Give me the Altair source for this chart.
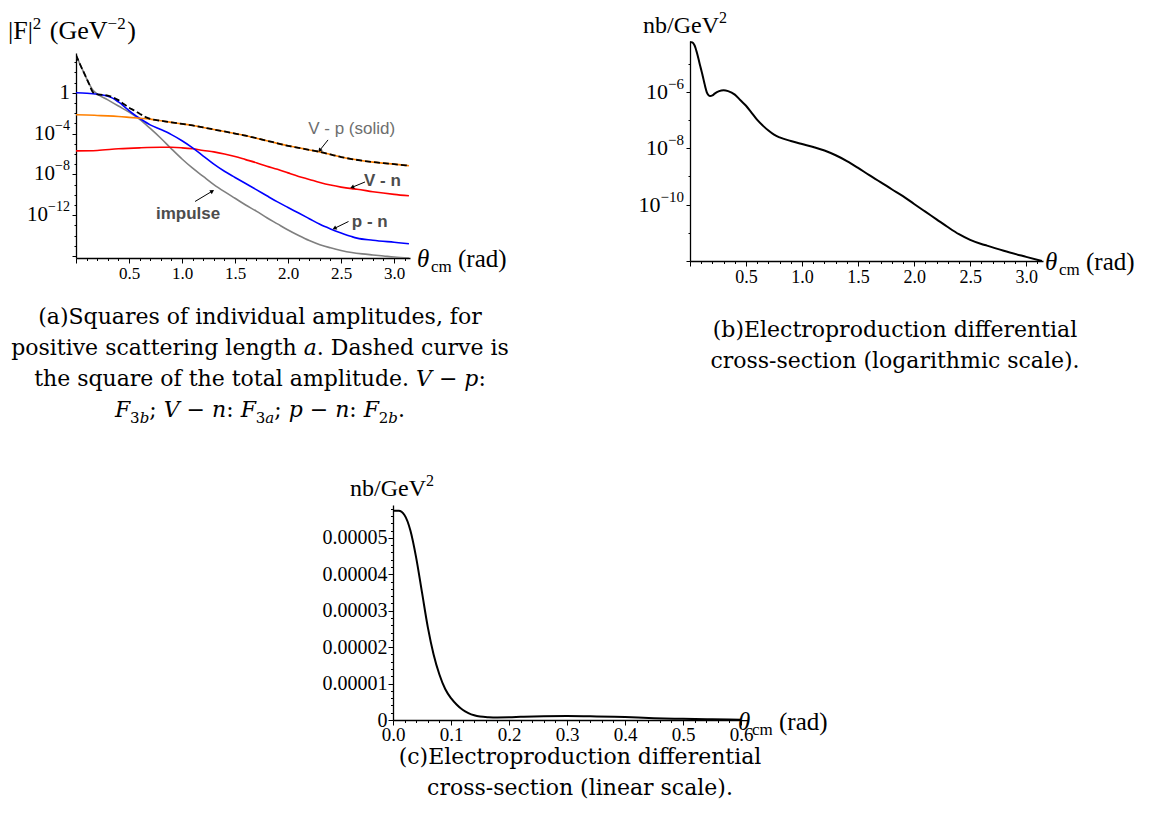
import altair as alt
import pandas as pd

# ------------------------------------------------------------------
# Panel (a): |F|^2 (GeV^-2) of individual amplitudes vs theta_cm (rad)
# ------------------------------------------------------------------
theta_total = [0.00, 0.04, 0.08, 0.12, 0.16, 0.20, 0.25, 0.30, 0.35, 0.40, 0.45, 0.50, 0.55, 0.60, 0.65,
               0.70, 0.80, 0.90, 1.00, 1.10, 1.20, 1.30, 1.40, 1.50, 1.60, 1.70, 1.80, 1.90, 2.00, 2.10,
               2.20, 2.30, 2.40, 2.50, 2.60, 2.70, 2.80, 2.90, 3.00, 3.14]
f2_total = [5.0e3, 560, 71, 8.9, 1.1, 0.71, 0.63, 0.52, 0.35, 0.19, 0.079, 0.035, 0.018, 8.9e-3, 4.5e-3,
            2.8e-3, 1.8e-3, 1.26e-3, 8.9e-4, 6.3e-4, 4.0e-4, 2.5e-4, 1.6e-4, 1.0e-4, 6.3e-5, 3.5e-5, 2.0e-5,
            1.1e-5, 6.3e-6, 4.0e-6, 2.5e-6, 1.6e-6, 8.9e-7, 5.0e-7, 3.2e-7, 2.2e-7, 1.6e-7, 1.26e-7, 1.0e-7, 7.1e-8]

theta_vp = [0.0, 0.1, 0.2, 0.3, 0.4, 0.5, 0.6, 0.7, 0.8, 0.9, 1.0, 1.1, 1.2, 1.3, 1.4, 1.5, 1.6, 1.7, 1.8,
            1.9, 2.0, 2.1, 2.2, 2.3, 2.4, 2.5, 2.6, 2.7, 2.8, 2.9, 3.0, 3.14]
f2_vp = [6.9e-3, 6.6e-3, 6.0e-3, 5.4e-3, 4.7e-3, 3.9e-3, 3.2e-3, 2.6e-3, 1.8e-3, 1.26e-3, 8.9e-4, 6.3e-4,
         4.0e-4, 2.5e-4, 1.6e-4, 1.0e-4, 6.3e-5, 3.5e-5, 2.0e-5, 1.1e-5, 6.3e-6, 4.0e-6, 2.5e-6, 1.6e-6,
         8.9e-7, 5.0e-7, 3.2e-7, 2.2e-7, 1.6e-7, 1.26e-7, 1.0e-7, 7.1e-8]

theta_vn = [0.0, 0.2, 0.4, 0.6, 0.8, 0.9, 1.0, 1.1, 1.2, 1.3, 1.4, 1.5, 1.6, 1.7, 1.8, 1.9, 2.0, 2.1, 2.2,
            2.3, 2.4, 2.5, 2.6, 2.65, 2.8, 3.0, 3.14]
f2_vn = [2.0e-6, 2.2e-6, 3.2e-6, 4.0e-6, 4.5e-6, 4.5e-6, 4.0e-6, 3.2e-6, 2.2e-6, 1.6e-6, 1.0e-6, 5.6e-7,
         2.8e-7, 1.4e-7, 6.3e-8, 3.2e-8, 1.4e-8, 6.3e-9, 3.2e-9, 1.6e-9, 8.9e-10, 5.6e-10, 4.0e-10,
         3.5e-10, 2.0e-10, 1.1e-10, 7.9e-11]

theta_pn = [0.0, 0.1, 0.2, 0.3, 0.35, 0.4, 0.45, 0.5, 0.55, 0.6, 0.7, 0.8, 0.9, 1.0, 1.1, 1.2, 1.3, 1.4,
            1.5, 1.6, 1.7, 1.8, 1.9, 2.0, 2.1, 2.2, 2.3, 2.4, 2.5, 2.6, 2.65, 2.8, 3.0, 3.14]
f2_pn = [1.0, 0.89, 0.71, 0.45, 0.28, 0.126, 0.05, 0.018, 7.1e-3, 3.2e-3, 7.1e-4, 2.5e-4, 7.9e-5, 2.0e-5,
         4.0e-6, 6.3e-7, 1.0e-7, 2.0e-8, 5.0e-9, 1.26e-9, 3.2e-10, 7.9e-11, 2.0e-11, 5.6e-12, 1.6e-12,
         4.5e-13, 1.26e-13, 4.5e-14, 1.8e-14, 7.9e-15, 5.6e-15, 3.5e-15, 2.2e-15, 1.6e-15]

theta_imp = [0.00, 0.04, 0.08, 0.12, 0.16, 0.20, 0.30, 0.40, 0.50, 0.60, 0.70, 0.80, 0.90, 1.00, 1.10,
             1.20, 1.30, 1.40, 1.50, 1.60, 1.70, 1.80, 1.90, 2.00, 2.10, 2.20, 2.30, 2.40, 2.50, 2.60,
             2.70, 2.80, 2.90, 3.00, 3.14]
f2_imp = [5.0e3, 560, 71, 8.9, 1.8, 0.79, 0.2, 0.05, 0.0126, 2.5e-3, 3.2e-4, 3.5e-5, 3.2e-6, 3.2e-7,
          4.0e-8, 6.3e-9, 1.0e-9, 2.0e-10, 4.5e-11, 1.0e-11, 2.5e-12, 5.6e-13, 1.4e-13, 3.5e-14, 1.0e-14,
          3.2e-15, 1.26e-15, 6.3e-16, 3.5e-16, 2.2e-16, 1.6e-16, 1.26e-16, 1.0e-16, 7.9e-17, 6.3e-17]

# y tick labels (value, exponent text) of the log panels
ylab_a_vals = [1.0, 1e-4, 1e-8, 1e-12]
ylab_a_exps = ["", "\u22124", "\u22128", "\u221212"]
ylab_b_vals = [1e-6, 1e-8, 1e-10]
ylab_b_exps = ["\u22126", "\u22128", "\u221210"]

# curve labels and arrows of panel (a), in data units
label_text = ["V - p (solid)", "V - n", "p - n", "impulse"]
label_theta = [2.60, 2.89, 2.77, 1.057]
label_f2 = [2.9e-4, 2.0e-9, 2.1e-13, 1.26e-12]
arrow_theta_tail = [2.377, 2.726, 2.57, 1.123]
arrow_f2_tail = [2.4e-5, 1.8e-9, 2.4e-13, 2.2e-11]
arrow_theta_head = [2.302, 2.61, 2.443, 1.28]
arrow_f2_head = [2.5e-6, 5.7e-10, 5.4e-14, 2.1e-10]
arrow_angle = [219, 248, 243, 59]

# ------------------------------------------------------------------
# Panels (b) and (c): electroproduction differential cross-section (nb/GeV^2)
# ------------------------------------------------------------------
theta_xs = [0.000, 0.010, 0.020, 0.030, 0.040, 0.050, 0.060, 0.070, 0.080, 0.090, 0.100, 0.110, 0.120,
            0.130, 0.140, 0.150, 0.165, 0.180, 0.200, 0.220, 0.260, 0.300, 0.340, 0.400, 0.450, 0.500,
            0.550, 0.600, 0.650, 0.700, 0.750, 0.800, 0.900, 1.000, 1.100, 1.200, 1.300, 1.400, 1.500,
            1.600, 1.700, 1.800, 1.900, 2.000, 2.100, 2.200, 2.300, 2.400, 2.500, 2.600, 2.650, 2.800,
            3.000, 3.140]
xsec = [5.74e-5, 5.74e-5, 5.62e-5, 5.2e-5, 4.45e-5, 3.5e-5, 2.55e-5, 1.8e-5, 1.25e-5, 8.5e-6, 6.0e-6,
        4.2e-6, 2.8e-6, 1.9e-6, 1.3e-6, 9.5e-7, 7.6e-7, 7.0e-7, 7.4e-7, 8.6e-7, 1.05e-6, 1.12e-6, 1.05e-6,
        7.9e-7, 5.0e-7, 3.2e-7, 1.8e-7, 1.0e-7, 6.3e-8, 4.2e-8, 3.0e-8, 2.4e-8, 1.8e-8, 1.4e-8, 1.1e-8,
        8.3e-9, 5.6e-9, 3.5e-9, 2.0e-9, 1.1e-9, 6.3e-10, 3.5e-10, 2.0e-10, 1.05e-10, 5.6e-11, 3.0e-11,
        1.6e-11, 8.9e-12, 5.6e-12, 4.0e-12, 3.5e-12, 2.3e-12, 1.4e-12, 1.0e-12]

# axis titles (text, superscript?, word gap before)
ytitle_a = [("|F|", False, 0), ("2", True, 0), ("(GeV", False, 7), ("\u22122", True, 0), (")", False, 0)]
ytitle_bc = [("nb/GeV", False, 0), ("2", True, 0)]

# captions
cap_a = ["(a)Squares of individual amplitudes, for",
         "positive scattering length \U0001D44E. Dashed curve is",
         "the square of the total amplitude. \U0001D449 \u2212 \U0001D45D:"]
cap_a_last = [("F", True, 0), ("3", False, 1), ("b", True, 1), ("; ", False, 0), ("V \u2212 n", True, 0),
              (": ", False, 0), ("F", True, 0), ("3", False, 1), ("a", True, 1), ("; ", False, 0),
              ("p \u2212 n", True, 0), (": ", False, 0), ("F", True, 0), ("2", False, 1), ("b", True, 1),
              (".", False, 0)]
cap_b = ["(b)Electroproduction differential", "cross-section (logarithmic scale)."]
cap_c = ["(c)Electroproduction differential", "cross-section (linear scale)."]

# ------------------------------------------------------------------
SERIF = "Liberation Serif"
SANS = "Liberation Sans"
CAPF = "DejaVu Serif"
CAPS = 22

WA, HA = 334, 217
WB, HB = 353, 220
WC, HC = 348, 215


def base_axis(**kw):
    d = dict(grid=False, title=None, domainColor="black", domainWidth=1.3, tickColor="black",
             tickWidth=1, labelColor="black", labelFont=SERIF, labelPadding=2, labelOverlap=False,
             labelFlush=False)
    d.update(kw)
    return alt.Axis(**d)


HALF = "abs(datum.value*2 - round(datum.value*2)) < 0.001"
DEC = "round(log(datum.value)/LN10)"


def x_rad_axis(size):
    return base_axis(values=[i / 10 for i in range(32)],
                     labelExpr=f"({HALF} && datum.value > 0.01) ? format(datum.value, '.1f') : ''",
                     tickSize={"condition": {"test": HALF, "value": 5}, "value": 2.5},
                     labelFontSize=size)


AX_XA = x_rad_axis(17)
AX_YA = base_axis(values=[10.0 ** k for k in range(-16, 4)], labels=False,
                  tickSize={"condition": {"test": f"{DEC} % 4 == 0", "value": 4}, "value": 2})
SX_A = alt.Scale(domain=[0, 3.15], nice=False, zero=False)
SY_A = alt.Scale(type="log", domain=[10 ** -16.2, 10 ** 3.9], range=[HA, 12], nice=False)

AX_XB = x_rad_axis(18)
AX_YB = base_axis(values=[10.0 ** k for k in range(-12, -4)], labels=False,
                  tickSize={"condition": {"test": f"{DEC} % 2 == 0", "value": 4}, "value": 2})
SX_B = alt.Scale(domain=[0, 3.15], nice=False, zero=False)
SY_B = alt.Scale(type="log", domain=[1e-12, 6.3e-5], nice=False)

AX_XC = base_axis(values=[i * 0.02 for i in range(31)],
                  labelExpr="round(datum.value*100) % 10 == 0 ? format(datum.value, '.1f') : ''",
                  tickSize={"condition": {"test": "round(datum.value*100) % 10 == 0", "value": 5},
                            "value": 2.5},
                  labelFontSize=19, labelPadding=0)
AX_YC = base_axis(values=[i * 2e-6 for i in range(30)],
                  labelExpr=("round(datum.value*1e6) % 10 == 0 ? (datum.value < 1e-9 ? '0' : "
                             "format(datum.value, '.5f')) : ''"),
                  tickSize={"condition": {"test": "round(datum.value*1e6) % 10 == 0", "value": 5},
                            "value": 2.5},
                  labelFontSize=20, labelPadding=1)
SX_C = alt.Scale(domain=[0, 0.6], nice=False, zero=False)
SY_C = alt.Scale(domain=[0, 5.9e-5], nice=False, zero=False)


def ptext(text, x, y, size, font=SERIF, style="normal", weight="normal", align="left",
          color="black"):
    return alt.Chart(pd.DataFrame({"t": [text]})).mark_text(
        font=font, fontSize=size, fontStyle=style, fontWeight=weight, align=align,
        baseline="alphabetic", color=color
    ).encode(x=alt.value(x), y=alt.value(y), text="t:N")


# approximate advance widths (em) of Liberation Serif, for laying out superscripts
LTAB = {"|": .2, "F": .556, " ": .25, "(": .333, ")": .333, "G": .722, "e": .444, "V": .722,
        "n": .5, "b": .5, "/": .278, "2": .5, "\u2212": .564}


def sup_title(parts, x, y, size, sup_size):
    out = []
    for t, sup, gap in parts:
        x += gap
        s = sup_size if sup else size
        out.append(ptext(t, x, y - (10 if sup else 0), s))
        x += sum(LTAB.get(ch, .5) for ch in t) * s + (1.5 if sup else 0)
    return out


def pow_labels(vals, exps, scale, axis, base, sup, right=-6):
    """Tick labels 10^e drawn at the tick values of a log axis."""
    out = []
    for v, e in zip(vals, exps):
        yd = alt.YDatum(v, type="quantitative", scale=scale, axis=axis)
        if e == "":
            out.append(alt.Chart(pd.DataFrame({"t": ["1"]})).mark_text(
                font=SERIF, fontSize=base, align="right", baseline="middle", color="black"
            ).encode(x=alt.value(right), y=yd, text="t:N"))
            continue
        w = sup * (0.564 + 0.5 * (len(e) - 1))
        out.append(alt.Chart(pd.DataFrame({"t": ["10"]})).mark_text(
            font=SERIF, fontSize=base, align="right", baseline="middle", color="black"
        ).encode(x=alt.value(right - w), y=yd, text="t:N"))
        out.append(alt.Chart(pd.DataFrame({"t": [e]})).mark_text(
            font=SERIF, fontSize=sup, align="right", baseline="middle", dy=-8, color="black"
        ).encode(x=alt.value(right), y=yd, text="t:N"))
    return out


def theta_title(x, y):
    return [ptext("θ", x, y, 25, style="italic"),
            ptext("cm", x + 14, y + 5, 17),
            ptext("(rad)", x + 41, y, 25)]


WTAB = {" ": .318, ";": .337, ":": .337, ".": .318, "F": .685, "V": .727, "n": .645, "p": .640,
        "a": .596, "b": .640, "2": .636, "3": .636, "\u2212": .838}


def rich_line(segs, cx, y):
    items = []
    for t, it, sub in segs:
        s = 15 if sub else CAPS
        w = sum(WTAB.get(ch, .6) for ch in t) * s
        items.append((t, it, s, 6 if sub else 0, w))
    x = cx - sum(i[4] for i in items) / 2
    out = []
    for t, it, s, dy, w in items:
        out.append(ptext(t, x, y + dy, s, font=CAPF, style="italic" if it else "normal"))
        x += w
    return out


def caption(lines, cx, y0, step=31):
    return [ptext(t, cx, y0 + i * step, CAPS, font=CAPF, align="center") for i, t in enumerate(lines)]


# ---------------------------- panel (a) ----------------------------
def XA(f="theta"):
    return alt.X(f"{f}:Q", scale=SX_A, axis=AX_XA)


def YA(f="v"):
    return alt.Y(f"{f}:Q", scale=SY_A, axis=AX_YA)


def curve_a(th, v, color, width=1.6, **kw):
    return alt.Chart(pd.DataFrame({"theta": th, "v": v})).mark_line(
        color=color, strokeWidth=width, clip=True, interpolate="monotone", **kw
    ).encode(x=XA(), y=YA())


lab = pd.DataFrame({"lt": label_theta, "lv": label_f2, "txt": label_text})
arr = pd.DataFrame({"t0": arrow_theta_tail, "v0": arrow_f2_tail, "t1": arrow_theta_head,
                    "v1": arrow_f2_head, "ang": arrow_angle})

lab_vp = alt.Chart(lab.iloc[[0]]).mark_text(font=SANS, fontSize=17, color="#6e6e6e").encode(
    x=XA("lt"), y=YA("lv"), text="txt:N")
lab_rest = alt.Chart(lab.iloc[1:]).mark_text(font=SANS, fontSize=17, fontWeight="bold",
                                             color="#4d4d4d").encode(x=XA("lt"), y=YA("lv"), text="txt:N")
arrow_line = alt.Chart(arr).mark_rule(color="black", strokeWidth=1).encode(
    x=XA("t0"), y=YA("v0"), x2="t1:Q", y2="v1:Q")
arrow_head = alt.Chart(arr).mark_point(shape="triangle", filled=True, color="black", size=22,
                                       opacity=1).encode(
    x=XA("t1"), y=YA("v1"), angle=alt.Angle("ang:Q", scale=None))

panel_a = alt.layer(
    curve_a(theta_imp, f2_imp, "#7f7f7f"),
    curve_a(theta_vn, f2_vn, "#ff0000"),
    curve_a(theta_pn, f2_pn, "#0000ff"),
    curve_a(theta_vp, f2_vp, "#ff8000"),
    curve_a(theta_total, f2_total, "black", width=1.8, strokeDash=[6, 3]),
    lab_vp, lab_rest, arrow_line, arrow_head,
    *pow_labels(ylab_a_vals, ylab_a_exps, SY_A, AX_YA, 21, 14),
    *sup_title(ytitle_a, -68, -2, 26, 17),
    *theta_title(341, 226),
    *caption(cap_a, 184, 283),
    *rich_line(cap_a_last, 184, 283 + 3 * 31),
).properties(width=WA, height=HA)

# ---------------------------- panel (b) ----------------------------
xs_df = pd.DataFrame({"theta": theta_xs, "v": xsec})
panel_b = alt.layer(
    alt.Chart(xs_df).mark_line(color="black", strokeWidth=2, clip=True, interpolate="monotone").encode(
        x=alt.X("theta:Q", scale=SX_B, axis=AX_XB), y=alt.Y("v:Q", scale=SY_B, axis=AX_YB)),
    *pow_labels(ylab_b_vals, ylab_b_exps, SY_B, AX_YB, 22, 15),
    *sup_title(ytitle_bc, -47, -8, 24, 16),
    *theta_title(355, 229),
    *caption(cap_b, 205, 296),
).properties(width=WB, height=HB)

# ---------------------------- panel (c) ----------------------------
panel_c = alt.layer(
    alt.Chart(xs_df).transform_filter("datum.theta <= 0.61").mark_line(
        color="black", strokeWidth=2, clip=True, interpolate="monotone").encode(
        x=alt.X("theta:Q", scale=SX_C, axis=AX_XC), y=alt.Y("v:Q", scale=SY_C, axis=AX_YC)),
    *sup_title(ytitle_bc, -43, -9, 24, 16),
    *theta_title(345, 225),
    *caption(cap_c, 187, 259),
).properties(width=WC, height=HC)

spacer = alt.Chart(pd.DataFrame({"s": [0]})).mark_point(opacity=0).properties(width=317, height=10)

top = alt.hconcat(panel_a, panel_b, spacing=280, bounds="flush")
bottom = alt.hconcat(spacer, panel_c, spacing=0, bounds="flush")
chart = alt.vconcat(top, bottom, spacing=464, bounds="flush").properties(
    padding={"left": 0, "top": 2, "right": 0, "bottom": 0}, background="white"
).configure_view(stroke=None)

chart.save("out.html", embed_options={"renderer": "svg", "actions": False})
